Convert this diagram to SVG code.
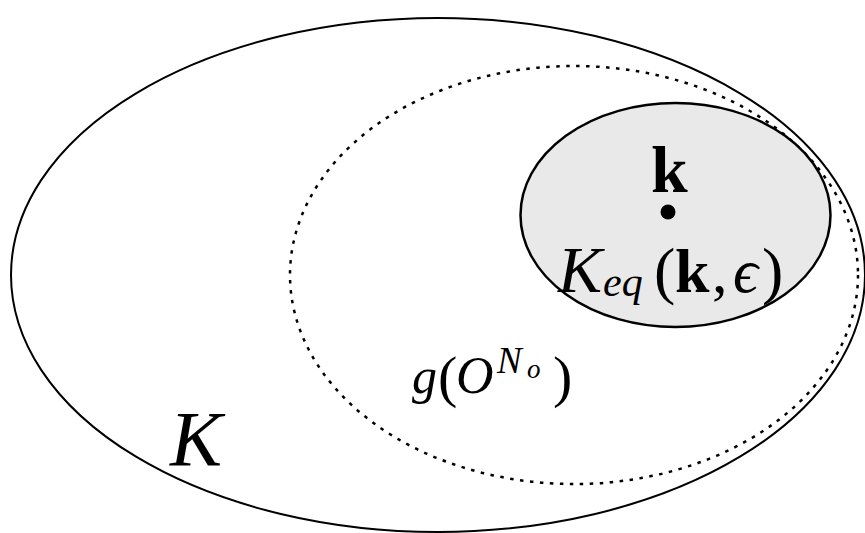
<svg xmlns="http://www.w3.org/2000/svg" width="865" height="533" viewBox="0 0 865 533">
<style>
.outline{fill:none;stroke:#000;stroke-width:2}
.dotted{fill:none;stroke:#000;stroke-width:2.5;stroke-dasharray:3.5 6.5}
.eq{fill:#e9e9e9;stroke:#000;stroke-width:2.5}
.t{font-family:"Liberation Serif","DejaVu Serif",serif;fill:#000}
.i{font-style:italic}
.b{font-weight:bold}
</style>
<rect width="865" height="533" fill="#fff"/>
<g id="K-set">
<ellipse class="outline" cx="438" cy="275" rx="427" ry="257"/>
<text class="t i" x="170" y="465" font-size="78">K</text>
</g>
<g id="g-image">
<ellipse class="dotted" cx="574" cy="275" rx="284" ry="209"/>
<text class="t" y="393" font-size="50"><tspan class="i" x="412">g</tspan><tspan x="438" y="396" font-size="58">(</tspan><tspan class="i" x="456" y="393" font-size="52">O</tspan><tspan class="i" x="497" y="373" font-size="37">N</tspan><tspan class="i" x="527" y="378" font-size="27">o</tspan><tspan x="553" y="396" font-size="58">)</tspan></text>
</g>
<g id="Keq">
<ellipse class="eq" cx="675.5" cy="215" rx="155" ry="112"/>
<circle cx="668" cy="212" r="7.5"/>
<text class="t b" x="651" y="192" font-size="66">k</text>
<text class="t" y="292" font-size="62"><tspan class="i" x="558" font-size="66">K</tspan><tspan class="i" x="603" y="296" font-size="42">eq</tspan><tspan x="654" y="292" font-size="64">(</tspan><tspan class="b" x="675">k</tspan><tspan x="712">,</tspan><tspan class="i" x="733">ϵ</tspan><tspan x="762" font-size="64">)</tspan></text>
</g>
</svg>
